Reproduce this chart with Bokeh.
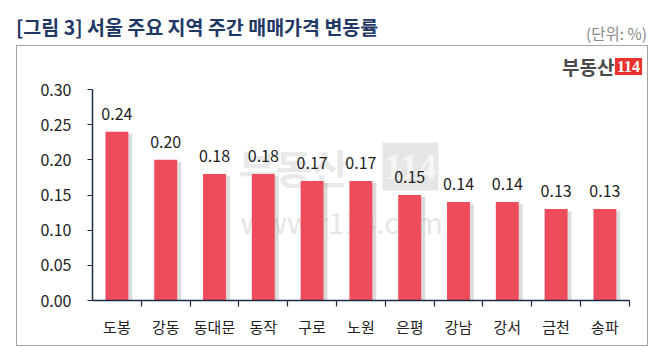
from bokeh.plotting import figure
from bokeh.models import FixedTicker, Label, Range1d, NumeralTickFormatter, Div, Spacer
from bokeh.layouts import column, row
from bokeh.embed import file_html
from bokeh.resources import INLINE
from bokeh.core.properties import value

# ---- data ----
regions = ["도봉", "강동", "동대문", "동작", "구로", "노원", "은평", "강남", "강서", "금천", "송파"]
changes = [0.24, 0.20, 0.18, 0.18, 0.17, 0.17, 0.15, 0.14, 0.14, 0.13, 0.13]
y_ticks = [0.00, 0.05, 0.10, 0.15, 0.20, 0.25, 0.30]
title_text = "[그림 3] 서울 주요 지역 주간 매매가격 변동률"
unit_text = "(단위: %)"
logo_text = "부동산"
logo_num = "114"
watermark_url = "www.r114.com"

FONT = "Noto Sans CJK KR"
NARROW = "Liberation Sans Narrow"
n = len(regions)
xs = [i + 0.5 for i in range(n)]
value_labels = [f"{v:.2f}" for v in changes]
y_max = y_ticks[-1]

# geometry (pixels)
FIG_W, FIG_H = 632, 301
LEFT, BOTTOM = 75, 47
CAT_PX = 48.8            # pixel width of one category
AXIS_H = 211.0           # pixel height of 0..y_max
frame_w = FIG_W - LEFT
frame_h = FIG_H - BOTTOM

p = figure(width=FIG_W, height=FIG_H,
           x_range=Range1d(0, frame_w / CAT_PX),
           y_range=Range1d(0, y_max * frame_h / AXIS_H),
           output_backend="svg", toolbar_location=None,
           min_border_left=LEFT, min_border_right=0, min_border_top=0, min_border_bottom=BOTTOM,
           styles={"border": "1px solid #a6a6a6"})
p.outline_line_color = None
p.xgrid.grid_line_color = None
p.ygrid.grid_line_color = None
p.background_fill_color = "white"
p.border_fill_color = "white"

AX = "#1c2a48"
# y axis
p.yaxis.bounds = (0, y_max)
p.yaxis.ticker = FixedTicker(ticks=y_ticks)
p.yaxis.formatter = NumeralTickFormatter(format="0.00")
p.yaxis.axis_line_color = AX
p.yaxis.axis_line_width = 1.5
p.yaxis.major_tick_line_color = AX
p.yaxis.major_tick_out = 5
p.yaxis.major_tick_in = 0
p.yaxis.minor_tick_line_color = None
p.yaxis.major_label_text_font = FONT
p.yaxis.major_label_text_font_size = "16px"
p.yaxis.major_label_text_color = "#222222"
p.yaxis.major_label_standoff = 16

# x axis (labels at centers, ticks at boundaries)
p.xaxis.bounds = (0, n)
p.xaxis.ticker = FixedTicker(ticks=xs, minor_ticks=list(range(1, n + 1)))
p.xaxis.major_label_overrides = {x: r for x, r in zip(xs, regions)}
p.xaxis.axis_line_color = AX
p.xaxis.axis_line_width = 1.5
p.xaxis.major_tick_line_color = None
p.xaxis.major_tick_out = 0
p.xaxis.major_tick_in = 0
p.xaxis.minor_tick_line_color = AX
p.xaxis.minor_tick_line_width = 1.2
p.xaxis.minor_tick_out = 6
p.xaxis.minor_tick_in = 0
p.xaxis.major_label_text_font = FONT
p.xaxis.major_label_text_font_size = "15px"
p.xaxis.major_label_text_color = "#222222"
p.xaxis.major_label_standoff = 9

# watermark
p.add_layout(Label(x=146, y=134, x_units="screen", y_units="screen", text=logo_text,
                   text_font=FONT, text_font_style="bold", text_font_size="40px",
                   text_color="#e9e9e9", text_baseline="middle", level="underlay"))
p.add_layout(Label(x=318, y=134, x_units="screen", y_units="screen", text=logo_num,
                   text_font=NARROW, text_font_style="bold", text_font_size="36px",
                   text_color="#f6f6f6", background_fill_color="#e6e6e6",
                   text_align="center", text_baseline="middle", level="underlay",
                   padding=dict(left=2, right=2, top=12, bottom=12)))
p.add_layout(Label(x=148, y=80, x_units="screen", y_units="screen", text=watermark_url,
                   text_font=FONT, text_font_size="29px",
                   text_color="#e6e6e6", text_baseline="middle", level="underlay"))

# bars
p.vbar(x=[x + 0.08 for x in xs], top=[v - 0.003 for v in changes], width=0.47,
       fill_color="#9a9a9a", fill_alpha=0.35, line_color=None)
p.vbar(x=xs, top=changes, width=0.47, fill_color="#EE4B5B", line_color=None)
p.text(x=xs, y=changes, text=value_labels, text_align="center", text_baseline="bottom",
       y_offset=-12, text_font=value(FONT), text_font_size="16px", text_color="#222222")

# logo
p.add_layout(Label(x=522, y=234, x_units="screen", y_units="screen", text=logo_text,
                   text_font=FONT, text_font_style="bold", text_font_size="19px",
                   text_align="right", text_color="#4a4a4a", text_baseline="middle"))
p.add_layout(Label(x=536, y=234, x_units="screen", y_units="screen", text=logo_num,
                   text_font=NARROW, text_font_style="bold", text_font_size="16px",
                   text_align="center", text_color="white", background_fill_color="#E8322B",
                   text_baseline="middle", padding=dict(left=2, right=2, top=3, bottom=3)))

header = Div(text=(
    '<div style="position:relative;width:661px;height:45px;">'
    f'<span style="position:absolute;left:16px;top:14px;font-family:\'{FONT}\';font-weight:bold;'
    f'font-size:19.5px;line-height:26px;color:#1F3864;white-space:nowrap;">{title_text}</span>'
    f'<span style="position:absolute;right:14px;top:23px;font-family:\'{FONT}\';'
    f'font-size:15.5px;line-height:20px;color:#8a8a8a;white-space:nowrap;">{unit_text}</span>'
    '</div>'), width=661, height=45, margin=0)

layout = column(header, row(Spacer(width=16, height=FIG_H), p, margin=0), margin=0, spacing=0)

open("out.html", "w").write(file_html(layout, INLINE))
